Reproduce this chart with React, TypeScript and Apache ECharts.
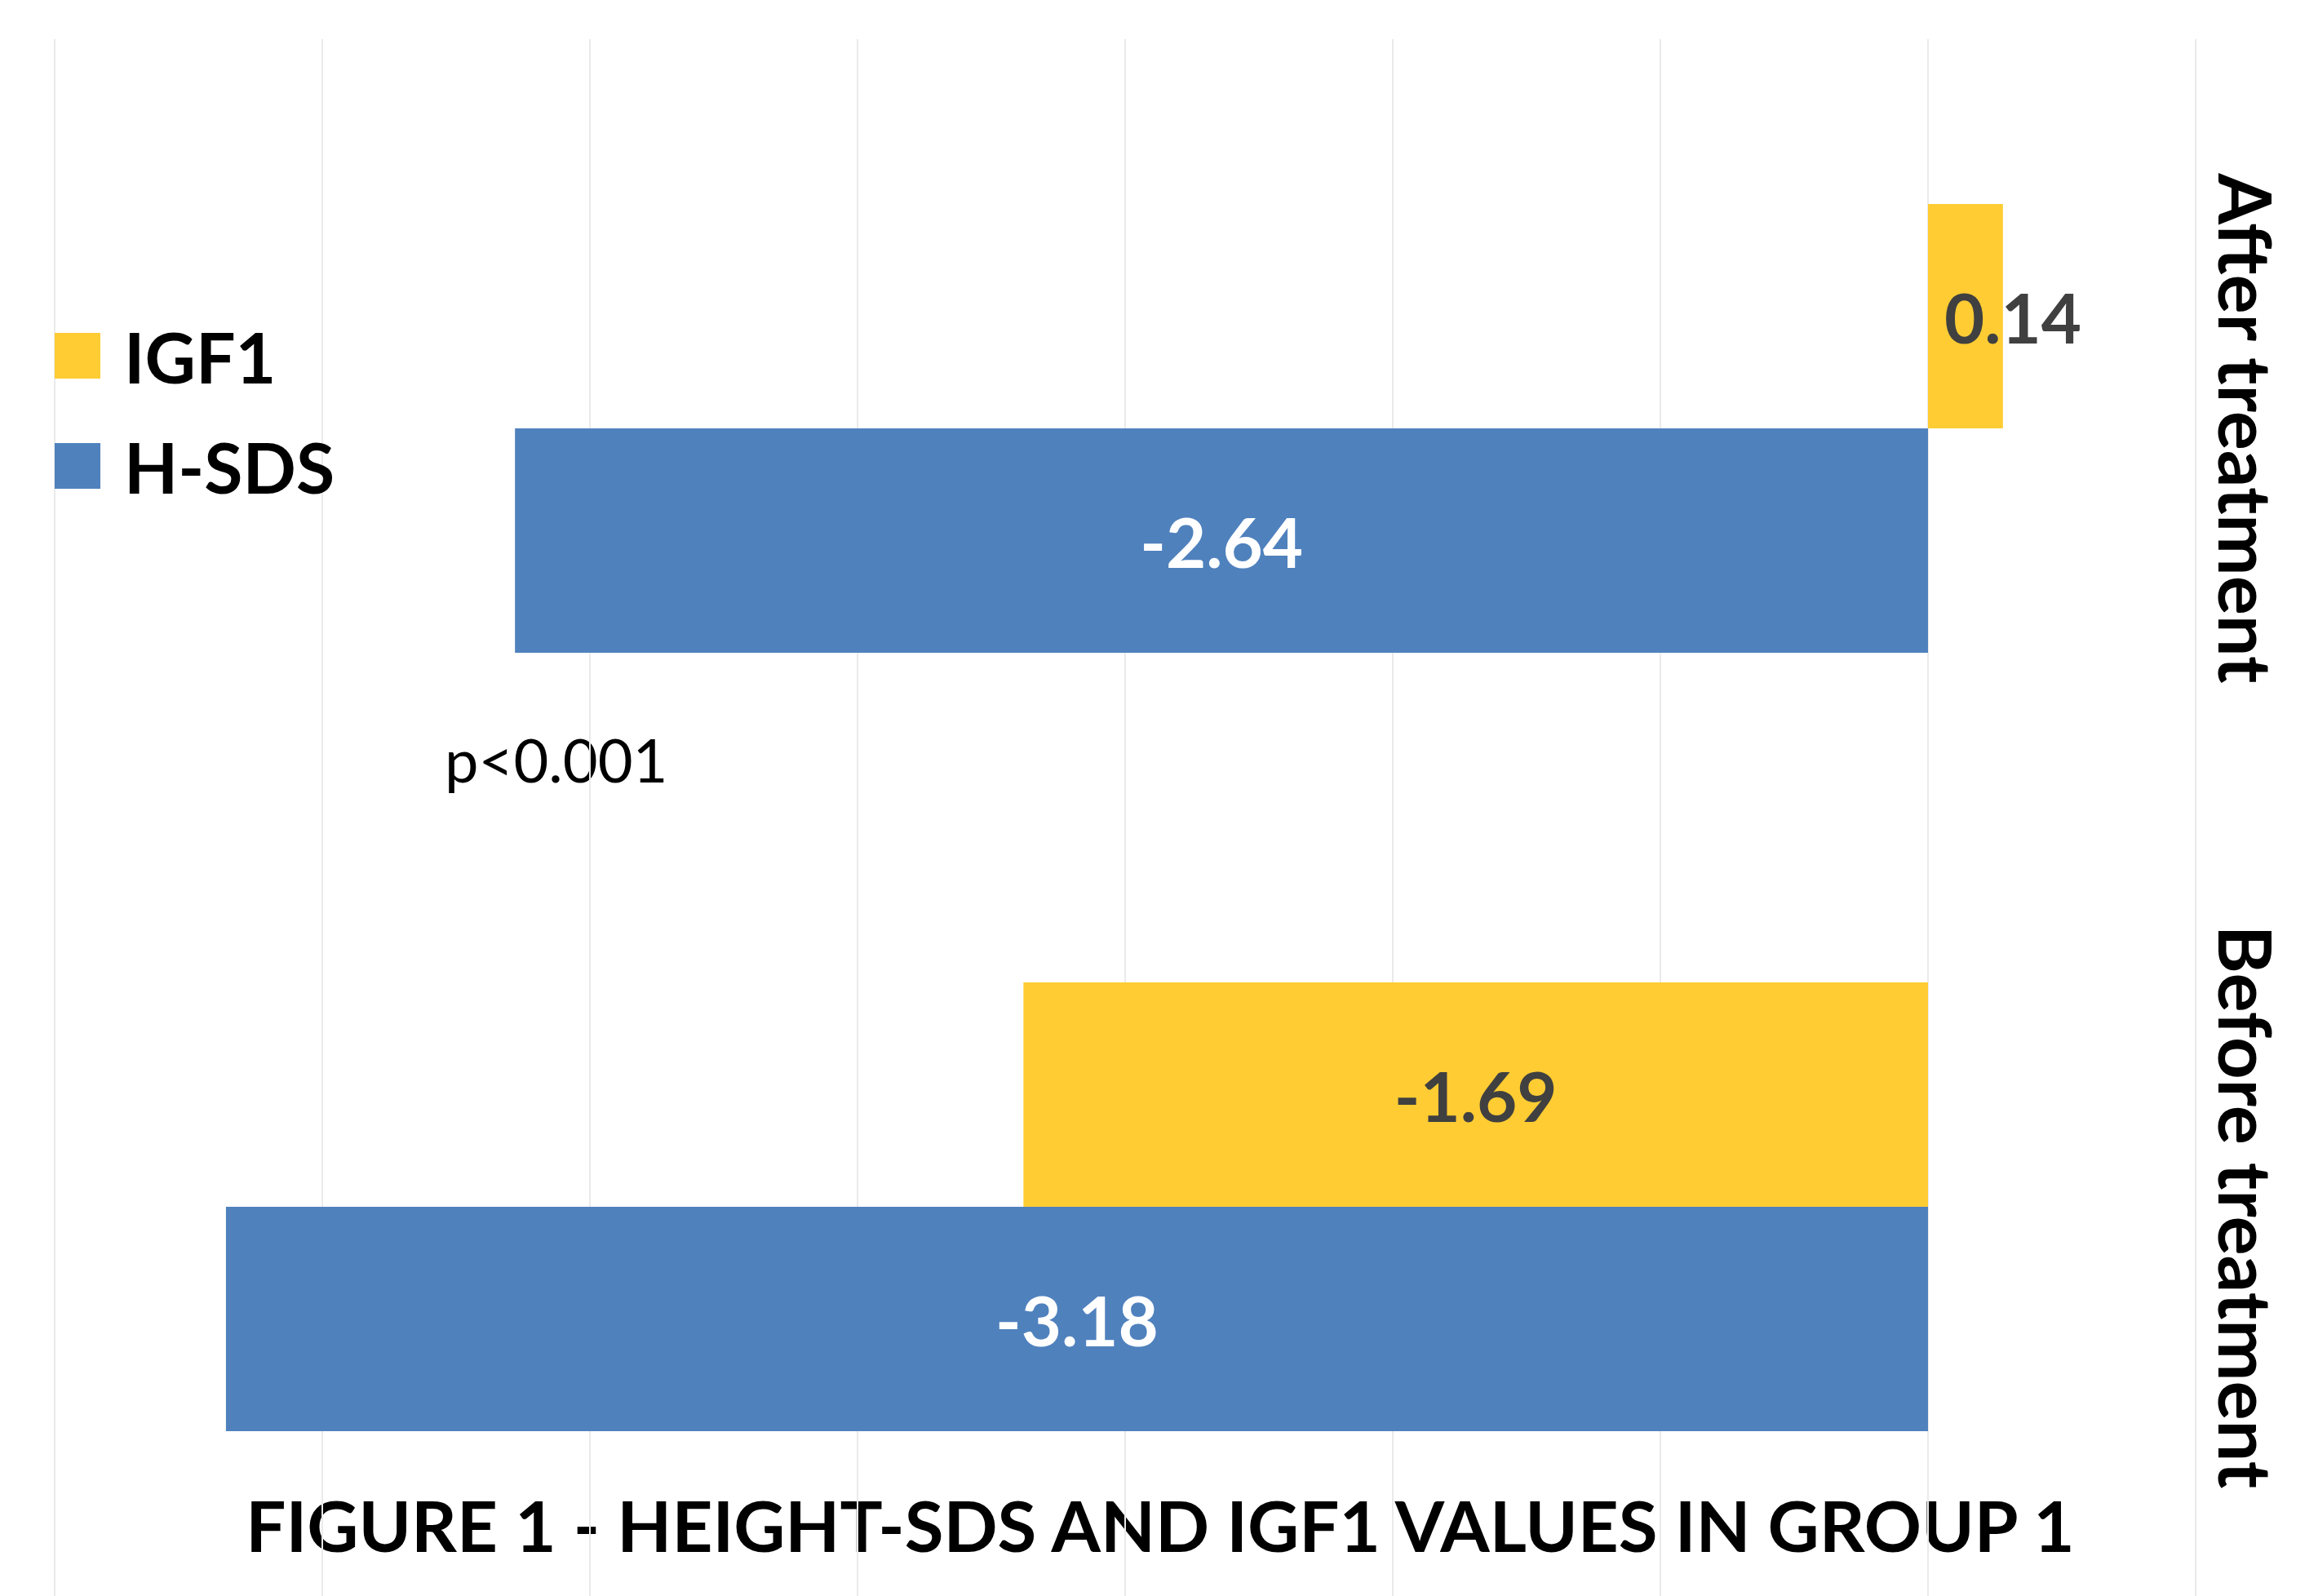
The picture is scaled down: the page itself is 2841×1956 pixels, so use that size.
import React, { useEffect, useRef } from "react";
import * as echarts from "echarts";

const categories = ["Before treatment", "After treatment"];
const hsdsValues = [-3.18, -2.64];
const igf1Values = [-1.69, 0.14];
const seriesNames = ["IGF1", "H-SDS"];
const titleText = "FIGURE 1 - HEIGHT-SDS AND IGF1 VALUES IN GROUP 1";
const noteText = "p<0.001";

const BLUE = "#4F81BD";
const GOLD = "#FFCC33";
const FONT = "Lato, 'Open Sans', sans-serif";

export default function App() {
  const ref = useRef<HTMLDivElement>(null);
  useEffect(() => {
    if (!ref.current) return;
    const chart = echarts.init(ref.current, null, { renderer: "svg" });
    const smallLabel = (v: number) => Math.abs(v) < 0.5;
    chart.setOption({
      animation: false,
      backgroundColor: "#ffffff",
      grid: { left: 67, right: 150, top: 48, bottom: -8, containLabel: false },
      legend: {
        data: seriesNames,
        orient: "vertical",
        left: 67,
        top: 392,
        padding: 0,
        itemWidth: 56,
        itemHeight: 56,
        itemGap: 47,
        icon: "rect",
        textStyle: {
          fontFamily: FONT,
          fontWeight: "bold",
          fontSize: 86,
          lineHeight: 88,
          color: "#000000",
          padding: [0, 0, 0, 24],
        },
      },
      xAxis: {
        type: "value",
        min: -3.5,
        max: 0.5,
        interval: 0.5,
        axisLabel: { show: false },
        axisLine: { show: false },
        axisTick: { show: false },
        splitLine: { show: true, lineStyle: { color: "#EAEAEA", width: 2 } },
      },
      yAxis: {
        type: "category",
        data: categories,
        position: "right",
        axisLine: { show: false },
        axisTick: { show: false },
        splitLine: { show: false },
        axisLabel: {
          rotate: -90,
          margin: 18,
          align: "center",
          verticalAlign: "bottom",
          fontFamily: FONT,
          fontWeight: "bold",
          fontSize: 90,
          lineHeight: 89,
          color: "#000000",
        },
      },
      series: [
        {
          name: "IGF1",
          type: "bar",
          barWidth: 275,
          barGap: "0%",
          itemStyle: { color: GOLD },
          label: {
            show: true,
            position: "inside",
            fontFamily: FONT,
            fontWeight: "bold",
            fontSize: 85,
            color: "#404040",
          },
          data: igf1Values.map((v) =>
            smallLabel(v)
              ? { value: v, label: { position: "insideLeft", distance: 20 } }
              : v
          ),
        },
        {
          name: "H-SDS",
          type: "bar",
          barWidth: 275,
          barGap: "0%",
          itemStyle: { color: BLUE },
          label: {
            show: true,
            position: "inside",
            fontFamily: FONT,
            fontWeight: "bold",
            fontSize: 85,
            color: "#ffffff",
          },
          data: hsdsValues,
        },
      ],
      graphic: [
        {
          type: "text",
          left: 545,
          top: 893,
          style: {
            text: noteText,
            fontFamily: FONT,
            fontSize: 74,
            fontWeight: "normal",
            fill: "#000000",
          },
        },
        {
          type: "text",
          x: 1422,
          y: 1868,
          style: {
            text: titleText,
            fontFamily: FONT,
            fontSize: 87,
            fontWeight: "bold",
            fill: "#000000",
            align: "center",
            verticalAlign: "middle",
          },
        },
      ],
    });
    return () => chart.dispose();
  }, []);
  return (
    <div
      ref={ref}
      style={{ position: "fixed", left: 0, top: 0, width: 2841, height: 1956 }}
    />
  );
}
